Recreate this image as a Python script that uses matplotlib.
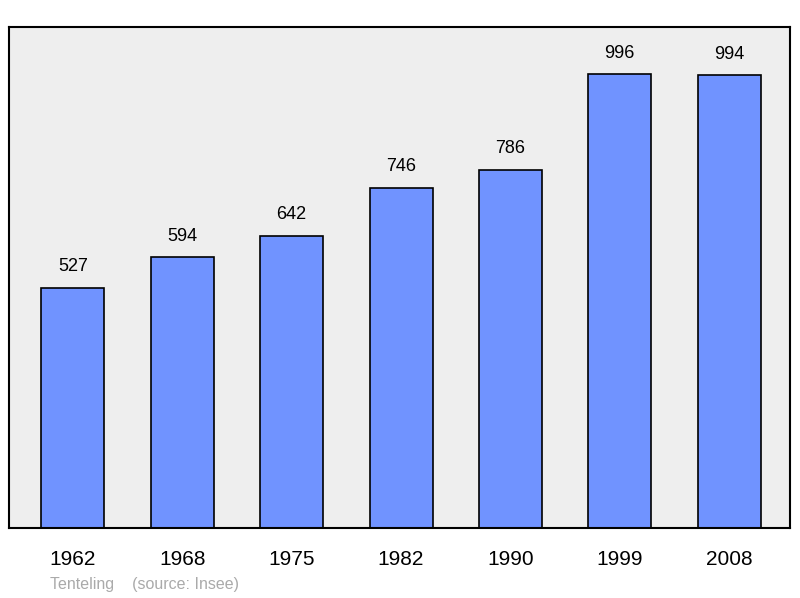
import matplotlib.pyplot as plt

years = ['1962', '1968', '1975', '1982', '1990', '1999', '2008']
population = [527, 594, 642, 746, 786, 996, 994]

fig = plt.figure(figsize=(8, 5.98), dpi=100)
ax = fig.add_axes([9 / 800, 1 - 528 / 598, 781 / 800, 501 / 598])
ax.set_facecolor('#eeeeee')

x = range(len(years))
ax.bar(x, population, width=0.576, color='#7093ff', edgecolor='black', linewidth=1.2)
for i, v in zip(x, population):
    ax.text(i, v + 28, str(v), ha='center', va='bottom', fontsize=13,
            family='Liberation Sans')

ax.set_xlim(-0.585, 6.557)
ax.set_ylim(0, 1100)
ax.set_xticks(list(x))
ax.set_xticklabels(years, fontsize=15, family='Liberation Sans')
ax.tick_params(axis='x', length=0, pad=16)
ax.set_yticks([])
for s in ax.spines.values():
    s.set_linewidth(1.5)

fig.text(50 / 800, 1 - 584 / 598, 'Tenteling    (source: Insee)', color='#aaaaaa',
         fontsize=11.5, family='Liberation Sans', va='center')

fig.savefig('out.png')
